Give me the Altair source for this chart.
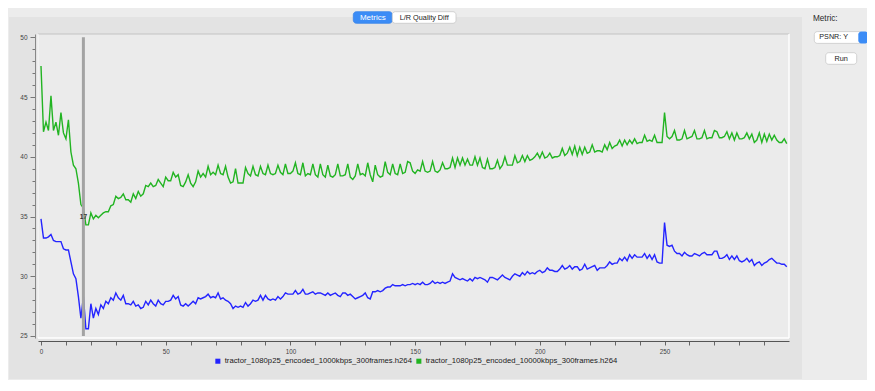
import altair as alt
import pandas as pd

# ---------------- data ----------------
series_names = [
    "tractor_1080p25_encoded_1000kbps_300frames.h264",
    "tractor_1080p25_encoded_10000kbps_300frames.h264",
]
series_colors = ["#2424ff", "#22b422"]

frames = list(range(300))

psnr_1000 = [
    34.8, 33.2, 33.2, 33.3, 33.5, 33.0, 32.9, 32.9, 32.9, 32.3,
    32.2, 32.2, 31.2, 30.2, 29.8, 28.3, 26.5, 28.3, 25.6, 25.6,
    27.7, 26.5, 27.3, 26.8, 27.6, 27.3, 27.9, 27.7, 28.2, 28.0,
    28.6, 28.2, 28.0, 28.4, 27.7, 27.7, 27.6, 27.9, 27.5, 27.6,
    27.3, 27.4, 27.9, 27.6, 28.0, 27.7, 27.5, 28.0, 27.7, 27.6,
    27.9, 27.9, 28.0, 28.4, 28.1, 28.3, 27.6, 27.5, 27.7, 27.5,
    27.7, 27.9, 27.7, 28.2, 28.1, 28.2, 28.3, 28.5, 28.2, 28.3,
    28.2, 28.6, 28.1, 28.2, 28.0, 27.9, 27.7, 27.3, 27.5, 27.4,
    27.5, 27.4, 27.8, 27.5, 27.7, 28.0, 27.9, 28.0, 28.4, 28.0,
    28.4, 28.1, 28.0, 28.1, 28.0, 28.3, 28.1, 28.3, 28.6, 28.5,
    28.5, 28.5, 28.8, 28.5, 28.6, 28.9, 28.5, 28.5, 28.6, 28.7,
    28.5, 28.6, 28.6, 28.5, 28.4, 28.6, 28.4, 28.5, 28.6, 28.4,
    28.3, 28.6, 28.6, 28.4, 28.5, 28.3, 28.1, 28.2, 28.3, 28.4,
    28.6, 28.2, 28.1, 28.7, 28.7, 28.8, 28.7, 28.8, 29.0, 29.1,
    29.1, 29.3, 29.2, 29.2, 29.2, 29.3, 29.2, 29.3, 29.3, 29.4,
    29.3, 29.4, 29.3, 29.5, 29.3, 29.3, 29.4, 29.6, 29.4, 29.5,
    29.4, 29.5, 29.4, 29.5, 29.6, 30.2, 29.9, 29.8, 29.7, 29.8,
    29.7, 29.6, 29.8, 29.6, 29.9, 29.8, 29.9, 29.8, 29.7, 29.5,
    29.9, 29.9, 29.8, 29.7, 29.9, 30.1, 29.9, 29.8, 29.7, 30.0,
    30.2, 30.1, 30.0, 30.3, 30.1, 30.4, 30.2, 30.3, 30.2, 30.4,
    30.5, 30.3, 30.4, 30.7, 30.5, 30.5, 30.4, 30.4, 30.6, 30.9,
    30.6, 30.7, 30.9, 30.6, 30.8, 30.8, 30.5, 30.6, 31.0, 30.6,
    30.7, 30.8, 30.9, 30.5, 30.7, 30.7, 30.7, 30.9, 31.2, 31.0,
    31.1, 31.1, 31.5, 31.3, 31.6, 31.3, 31.8, 31.5, 31.8, 31.6,
    31.6, 31.6, 31.9, 31.5, 31.8, 31.4, 31.8, 31.2, 31.1, 31.1,
    34.5, 32.6, 32.5, 32.6, 32.1, 31.9, 31.9, 31.7, 32.0, 31.8,
    31.7, 31.7, 31.9, 31.8, 31.7, 31.9, 32.0, 31.8, 31.8, 31.8,
    32.1, 32.1, 31.5, 31.5, 31.6, 31.8, 31.4, 31.7, 31.4, 31.7,
    31.3, 31.2, 31.3, 31.5, 31.2, 31.4, 30.9, 31.1, 31.2, 30.9,
    31.1, 31.2, 31.4, 31.5, 31.3, 31.1, 31.1, 31.0, 31.0, 30.8,
]

psnr_10000 = [
    47.6, 42.1, 42.9, 42.2, 45.1, 42.2, 42.9, 41.8, 43.7, 42.0,
    41.5, 43.1, 40.4, 39.3, 39.0, 37.8, 36.0, 35.7, 34.3, 34.3,
    35.3, 34.8, 35.1, 34.9, 35.1, 35.3, 35.4, 35.4, 35.9, 36.0,
    36.7, 36.5, 36.6, 36.9, 36.4, 36.4, 36.2, 36.9, 36.5, 37.1,
    36.7, 36.9, 37.6, 37.5, 37.8, 37.5, 37.6, 38.1, 37.8, 37.5,
    38.3, 38.0, 38.0, 38.7, 38.3, 38.5, 37.6, 37.5, 37.9, 38.5,
    37.8, 37.5, 37.9, 38.8, 38.3, 38.6, 38.3, 39.2, 38.5, 38.7,
    38.5, 39.3, 38.6, 38.5, 39.2, 38.3, 37.8, 37.9, 39.0, 37.8,
    37.8, 37.8, 39.1, 38.6, 38.4, 39.2, 38.5, 38.4, 39.2, 38.6,
    38.5, 39.3, 38.6, 38.5, 38.6, 39.3, 38.7, 38.5, 39.4, 38.6,
    38.6, 38.8, 39.5, 38.6, 38.5, 39.5, 38.4, 38.6, 38.5, 39.4,
    38.5, 38.3, 39.4, 38.5, 38.3, 39.3, 38.4, 38.3, 38.5, 39.4,
    38.4, 38.4, 38.5, 39.4, 38.3, 38.1, 38.4, 39.4, 38.5, 38.6,
    38.4, 39.5, 38.5, 37.9, 39.3, 38.5, 38.3, 38.4, 39.6, 38.7,
    38.5, 39.4, 38.6, 38.5, 39.4, 38.6, 38.7, 39.6, 39.5, 38.8,
    38.6, 38.9, 38.8, 39.6, 38.8, 38.7, 38.8, 39.6, 38.8, 38.7,
    38.9, 39.5, 39.0, 39.0, 39.1, 39.9, 39.1, 39.9, 39.3, 39.9,
    39.3, 39.8, 39.3, 39.3, 40.0, 39.3, 39.9, 39.1, 39.0, 39.8,
    39.0, 39.0, 39.1, 39.7, 39.0, 39.3, 40.0, 39.3, 39.3, 39.3,
    40.1, 39.5, 39.6, 40.1, 39.6, 40.1, 39.7, 39.8, 40.0, 40.3,
    39.9, 40.4, 39.9, 40.0, 40.3, 39.9, 40.0, 40.0, 40.1, 40.7,
    40.1, 40.3, 40.8, 40.2, 40.9, 40.1, 40.8, 40.2, 40.8, 40.3,
    40.4, 41.0, 40.4, 40.5, 40.5, 40.4, 41.0, 40.6, 41.2, 40.7,
    40.9, 41.0, 41.4, 40.9, 41.4, 41.0, 41.4, 41.1, 41.5, 41.1,
    41.2, 41.2, 41.8, 41.3, 41.4, 41.3, 41.8, 41.2, 41.2, 41.2,
    43.7, 41.7, 41.5, 41.7, 42.2, 41.4, 41.4, 41.5, 42.2, 41.5,
    41.6, 41.7, 42.2, 41.5, 41.5, 41.6, 42.2, 41.5, 41.6, 41.6,
    42.2, 42.1, 41.6, 41.6, 41.7, 42.1, 41.5, 42.0, 41.4, 42.0,
    41.5, 41.5, 41.6, 42.0, 41.5, 41.9, 41.2, 41.4, 42.0, 41.2,
    41.9, 41.3, 41.9, 41.4, 41.8, 41.4, 41.2, 41.2, 41.5, 41.1,
]

cursor_frame = [17]
cursor_label = ["17"]
cursor_label_value = [35.0]

y_tick_values = list(range(25, 51))
x_tick_values = list(range(0, 300, 10))

# ---------------- tables ----------------
lines_df = pd.DataFrame({
    "frame": frames + frames,
    "psnr": psnr_1000 + psnr_10000,
    "series": [series_names[0]] * len(frames) + [series_names[1]] * len(frames),
})
cursor_df = pd.DataFrame({
    "frame": cursor_frame,
    "top": [50] * len(cursor_frame),
    "bottom": [25] * len(cursor_frame),
    "label": cursor_label,
    "value": cursor_label_value,
})
one = pd.DataFrame({"k": [0]})

FONT = "Liberation Sans"
W, H = 751, 304

x_scale = alt.Scale(domain=[-1.2, 299.9], nice=False, zero=False)
y_scale = alt.Scale(domain=[24.83, 50.28], nice=False, zero=False)

x_axis = alt.Axis(
    values=x_tick_values,
    labelExpr="datum.value % 50 === 0 ? datum.label : ''",
    title=None, grid=False, offset=3, tickSize=4,
    domainColor="#555555", tickColor="#666666", labelColor="#444444",
    labelFontSize=6.3, labelPadding=3, labelFont=FONT, zindex=1,
)
y_axis = alt.Axis(
    values=y_tick_values,
    labelExpr="datum.value % 5 === 0 ? datum.label : ''",
    tickSize=alt.condition("datum.value % 5 === 0", alt.value(5), alt.value(3)),
    title=None, grid=False, offset=3,
    domainColor="#888888", tickColor="#777777", labelColor="#444444",
    labelFontSize=6.5, labelPadding=3, labelFont=FONT, zindex=1,
)


def ui_rect(x, x2, y, y2, fill, stroke=None, radius=0):
    props = dict(fill=fill, cornerRadius=radius)
    if stroke is not None:
        props.update(stroke=stroke, strokeWidth=0.8)
    return alt.Chart(one).mark_rect(**props).encode(
        x=alt.value(x), x2=alt.value(x2), y=alt.value(y), y2=alt.value(y2)
    )


def ui_text(txt, x, y, size, color, align="center", weight="normal"):
    return alt.Chart(one).mark_text(
        text=txt, align=align, baseline="middle", fontSize=size,
        color=color, fontWeight=weight, font=FONT,
    ).encode(x=alt.value(x), y=alt.value(y))


def ui_rule(x, x2, y, y2, color, width=1.0):
    return alt.Chart(one).mark_rule(color=color, strokeWidth=width).encode(
        x=alt.value(x), x2=alt.value(x2), y=alt.value(y), y2=alt.value(y2)
    )


# panel and plot background
panel = ui_rect(-29, 764, -17, 345, "#e3e3e3")
plot_bg = ui_rect(0, W, 0, H, "#ebebeb")
frame_top = ui_rule(0, W, 0, 0, "#c4c4c4", 1.2)
frame_left = ui_rule(0, 0, 0, H, "#f6f6f6", 1.2)
frame_bottom = ui_rule(0, W, H, H, "#ffffff", 1.4)
frame_right = ui_rule(W, W, 0, H, "#ffffff", 1.4)

# top tabs
tab_dot = alt.Chart(one).mark_circle(color="#b4b4b4", size=10, opacity=1).encode(
    x=alt.value(400), y=alt.value(-29)
)
tab_metrics = ui_rect(315.3, 354.3, -22.3, -10.7, "#3b8cf6", "#3a84e8", 3)
tab_lr = ui_rect(354.3, 418, -22.3, -10.7, "#ffffff", "#c8c8c8", 3)
tab_metrics_t = ui_text("Metrics", 334.8, -16.4, 8, "#ffffff")
tab_lr_t = ui_text("L/R Quality Diff", 386.2, -16.4, 7.3, "#222222")

# right side controls
metric_t = ui_text("Metric:", 775, -14.6, 8.2, "#2a2a2a", align="left")
dd_box = ui_rect(776.3, 824, -2.4, 9.4, "#ffffff", "#c8c8c8", 3)
dd_btn = ui_rect(820.3, 830.3, -2.4, 9.4, "#3b8cf6", None, 3)
dd_t = ui_text("PSNR: Y", 781.3, 3.4, 7.2, "#222222", align="left")
run_box = ui_rect(787.7, 818.7, 18.7, 30.3, "#ffffff", "#c8c8c8", 3)
run_t = ui_text("Run", 803.2, 24.6, 7.3, "#222222")

# data lines
lines = alt.Chart(lines_df).mark_line(strokeWidth=1.4).encode(
    x=alt.X("frame:Q", scale=x_scale, axis=x_axis),
    y=alt.Y("psnr:Q", scale=y_scale, axis=y_axis),
    color=alt.Color(
        "series:N",
        scale=alt.Scale(domain=series_names, range=series_colors),
        legend=alt.Legend(
            title=None, orient="none", legendX=176, legendY=323,
            direction="horizontal", symbolType="square", symbolSize=6,
            symbolStrokeWidth=2.6, labelFontSize=7.7, labelColor="#1a1a1a",
            labelFont=FONT, labelLimit=400, labelOffset=3, columnPadding=0,
            padding=0, zindex=2,
        ),
    ),
)

cursor = alt.Chart(cursor_df).mark_rule(color="#a3a3a3", strokeWidth=3).encode(
    x=alt.X("frame:Q", scale=x_scale, axis=x_axis),
    y=alt.Y("top:Q", scale=y_scale, axis=y_axis),
    y2="bottom:Q",
)
cursor_text = alt.Chart(cursor_df).mark_text(
    fontSize=6.5, fontWeight="bold", color="#333333", font=FONT
).encode(
    x=alt.X("frame:Q", scale=x_scale, axis=x_axis),
    y=alt.Y("value:Q", scale=y_scale, axis=y_axis),
    text="label:N",
)

chart = alt.layer(
    panel, plot_bg, frame_top, frame_left, frame_bottom, frame_right,
    tab_dot, tab_metrics, tab_lr, tab_metrics_t, tab_lr_t,
    metric_t, dd_box, dd_btn, dd_t, run_box, run_t,
    lines, cursor, cursor_text,
).properties(
    width=W, height=H,
    autosize=alt.AutoSizeParams(type="none"),
    padding={"left": 30, "top": 26, "right": 78, "bottom": 42},
    background="#ececec",
).configure(font=FONT).configure_view(stroke=None)

chart.save("out.html", embed_options={"renderer": "svg", "actions": False})
